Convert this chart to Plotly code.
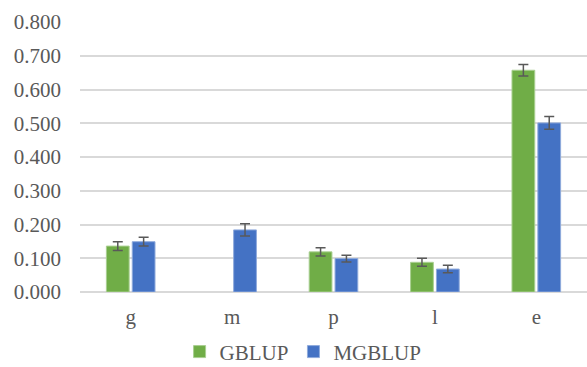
import plotly.graph_objects as go

categories = ["g", "m", "p", "l", "e"]
gblup = [0.136, None, 0.119, 0.088, 0.657]
gblup_err = [0.013, None, 0.012, 0.012, 0.017]
mgblup = [0.149, 0.184, 0.099, 0.068, 0.501]
mgblup_err = [0.013, 0.018, 0.010, 0.011, 0.019]
y_ticks = [0.0, 0.1, 0.2, 0.3, 0.4, 0.5, 0.6, 0.7, 0.8]

font_family = "Liberation Serif"
text_color = "#595959"
tfont = dict(family=font_family, size=21, color=text_color)

fig = go.Figure()
fig.add_trace(go.Bar(
    x=categories, y=gblup, name="GBLUP",
    marker=dict(color="#70AD47", line=dict(color="#A9CF91", width=1)),
    error_y=dict(type="data", array=gblup_err, color="#595959", thickness=1.5, width=5),
))
fig.add_trace(go.Bar(
    x=categories, y=mgblup, name="MGBLUP",
    marker=dict(color="#4472C4", line=dict(color="#8FAADC", width=1)),
    error_y=dict(type="data", array=mgblup_err, color="#595959", thickness=1.5, width=5),
))

fig.update_layout(
    width=587, height=367,
    margin=dict(l=80, r=0, t=22, b=75, autoexpand=False),
    paper_bgcolor="white", plot_bgcolor="white",
    barmode="group", bargap=0.49, bargroupgap=0.12,
    font=tfont,
    showlegend=True,
    legend=dict(orientation="h", xref="paper", x=0.44, xanchor="center",
                yref="paper", y=-0.222, yanchor="middle",
                font=tfont, itemwidth=30, traceorder="normal"),
    xaxis=dict(showgrid=False, showline=False, ticks="", zeroline=False,
               tickfont=tfont, ticklabelstandoff=10),
    yaxis=dict(range=[0, 0.8], tickvals=y_ticks, tickformat=".3f",
               showgrid=True, gridcolor="#D9D9D9", gridwidth=1.5,
               zeroline=True, zerolinecolor="#D9D9D9", zerolinewidth=1.5,
               showline=False, ticks="", ticklabelstandoff=18,
               tickfont=tfont),
)

fig.write_html("out.html", config={"displayModeBar": False},
               post_script="document.body.style.margin='0';document.body.style.overflow='hidden';")
